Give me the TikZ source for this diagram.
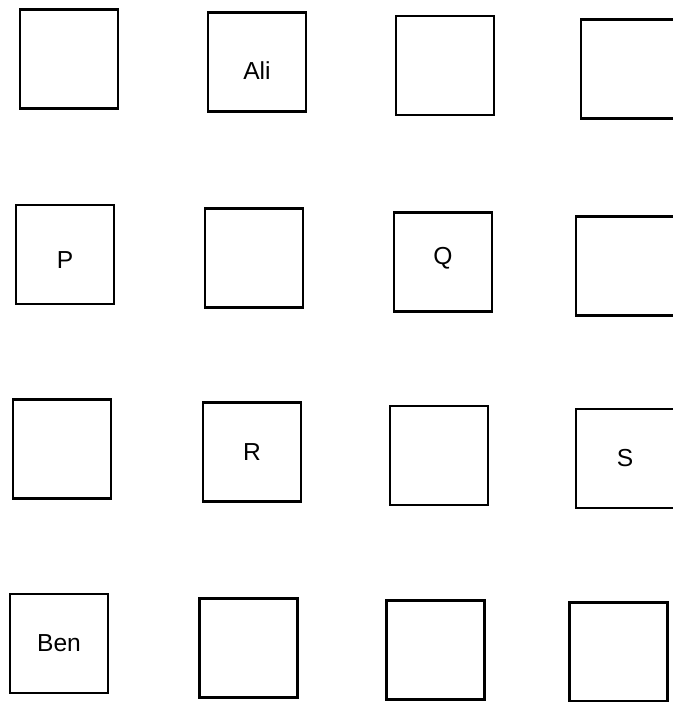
\documentclass[tikz,border=0pt]{standalone}
\usepackage{fontspec}
\setmainfont{Liberation Sans}
\usetikzlibrary{positioning}

\begin{document}
\begin{tikzpicture}[x=0.02cm, y=-0.02cm]
    \tikzset{
        box/.style={rectangle, draw=black, line width=1.6pt, fill=white,
                    minimum width=1.96cm, minimum height=1.98cm, inner sep=0pt},
        tag/.style={font=\fontsize{14}{16}\selectfont, inner sep=0pt}
    }
    \useasboundingbox (0,0) rectangle (672,702);
    % first row
    \node[box] (a1) at (69,59) {};
    \node[box, label={[tag, yshift=-0.18cm]center:Ali}] (ali) at (257,62) {};
    \node[box] (a3) at (445,65.5) {};
    \node[box] (a4) at (630,69) {};
    % second row
    \node[box, label={[tag, yshift=-0.11cm]center:P}] (p) at (65,254.5) {};
    \node[box] (b2) at (254,258) {};
    \node[box, label={[tag, yshift=0.08cm]center:Q}] (q) at (443,262) {};
    \node[box] (b4) at (625,266) {};
    % third row
    \node[box] (c1) at (62,449) {};
    \node[box, label={[tag]center:R}] (r) at (252,452) {};
    \node[box] (c3) at (439,455.5) {};
    \node[box, label={[tag]center:S}] (s) at (625,458.5) {};
    % fourth row
    \node[box, label={[tag]center:Ben}] (ben) at (59,643.5) {};
    \node[box] (d2) at (248.5,648) {};
    \node[box] (d3) at (435.5,650) {};
    \node[box] (d4) at (618.5,652) {};
\end{tikzpicture}
\end{document}
